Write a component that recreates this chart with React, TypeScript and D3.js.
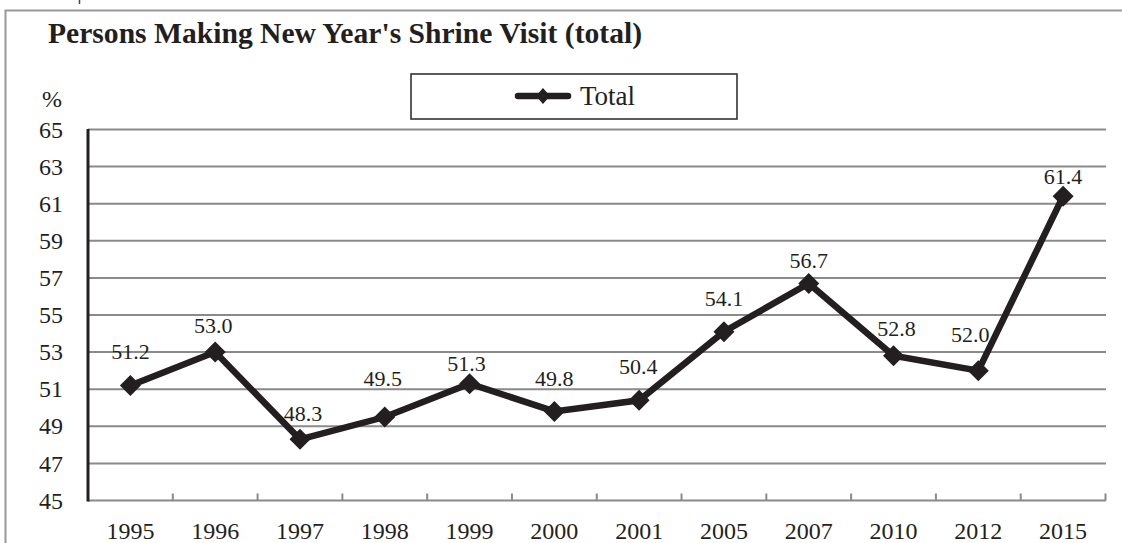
import React from "react";
import * as d3 from "d3";

const categories = ["1995", "1996", "1997", "1998", "1999", "2000", "2001", "2005", "2007", "2010", "2012", "2015"];
const totals = [51.2, 53.0, 48.3, 49.5, 51.3, 49.8, 50.4, 54.1, 56.7, 52.8, 52.0, 61.4];
const yTicks = [45, 47, 49, 51, 53, 55, 57, 59, 61, 63, 65];
const seriesName = "Total";
const titleText = "Persons Making New Year's Shrine Visit (total)";
// label placement offsets (px) relative to each point
const labelDx = [0, -2, 3, -2, -3, 0, -1, 0, 0, 3, -8, 0];
const labelDy = [-26, -19, -18, -31, -13, -25, -26, -26, -15, -20, -29, -12];

const W = 1122;
const H = 543;
const INK = "#231f20";
const FONT = "'Liberation Serif', 'Times New Roman', serif";

export default function App() {
  const x = d3.scaleBand<string>().domain(categories).range([88, 1105.5]).padding(0);
  const y = d3.scaleLinear().domain([45, 65]).range([500.5, 129.5]);
  const cx = (c: string) => (x(c) as number) + x.bandwidth() / 2;

  const line = d3
    .line<number>()
    .x((_, i) => cx(categories[i]))
    .y((v) => y(v));

  const diamond = (px: number, py: number, r: number, ry: number) =>
    `M${px},${py - ry}L${px + r},${py}L${px},${py + ry}L${px - r},${py}Z`;

  const boundaries = categories.map((c) => x(c) as number).concat([x.range()[1]]);

  return (
    <div style={{ position: "fixed", left: 0, top: 0 }}>
      <svg width={W} height={H} style={{ display: "block", background: "#fff" }}>
        {/* outer frame */}
        <rect x={5.5} y={10.5} width={1300} height={700} fill="#fff" stroke="#999" strokeWidth={2} />
        <line x1={79.5} x2={79.5} y1={0} y2={4} stroke="#444" strokeWidth={1.5} />

        {/* title */}
        <text x={48} y={43} fontFamily={FONT} fontWeight="bold" fontSize={29.6} fill={INK}>
          {titleText}
        </text>

        {/* legend */}
        <rect x={411} y={74} width={326} height={45} fill="#fff" stroke="#333" strokeWidth={1.6} />
        <line x1={518} x2={568} y1={96} y2={96} stroke={INK} strokeWidth={6.5} strokeLinecap="round" />
        <path d={diamond(543, 96, 7, 8)} fill={INK} />
        <text x={580} y={105} fontFamily={FONT} fontSize={27} fill={INK}>
          {seriesName}
        </text>

        {/* % unit */}
        <text x={52} y={107} textAnchor="middle" fontFamily={FONT} fontSize={24} fill={INK}>
          %
        </text>

        {/* gridlines */}
        {yTicks.map((t) => (
          <line key={"g" + t} x1={88} x2={1106} y1={y(t)} y2={y(t)} stroke="#8a8a8a" strokeWidth={2} />
        ))}

        {/* y tick labels */}
        {yTicks.map((t) => (
          <text key={"yl" + t} x={63} y={y(t)} dy="0.34em" textAnchor="end" fontFamily={FONT} fontSize={24} fill={INK}>
            {t}
          </text>
        ))}

        {/* x ticks */}
        {boundaries.map((b, i) => (
          <line key={"xt" + i} x1={b} x2={b} y1={y(45)} y2={y(45) - 7} stroke="#8a8a8a" strokeWidth={2} />
        ))}

        {/* x labels */}
        {categories.map((c) => (
          <text key={"xl" + c} x={cx(c)} y={539} textAnchor="middle" fontFamily={FONT} fontSize={24} fill={INK}>
            {c}
          </text>
        ))}

        {/* y axis */}
        <line x1={88} x2={88} y1={y(65) - 0.5} y2={y(45) + 1} stroke={INK} strokeWidth={3} />

        {/* series line */}
        <path d={line(totals) as string} fill="none" stroke={INK} strokeWidth={6.5} strokeLinejoin="miter" />
        {totals.map((v, i) => (
          <path key={"m" + i} d={diamond(cx(categories[i]), y(v), 10.5, 10.5)} fill={INK} />
        ))}

        {/* data labels */}
        {totals.map((v, i) => (
          <text
            key={"dl" + i}
            x={cx(categories[i]) + labelDx[i]}
            y={y(v) + labelDy[i]}
            textAnchor="middle"
            fontFamily={FONT}
            fontSize={22}
            fill={INK}
          >
            {v.toFixed(1)}
          </text>
        ))}
      </svg>
    </div>
  );
}
